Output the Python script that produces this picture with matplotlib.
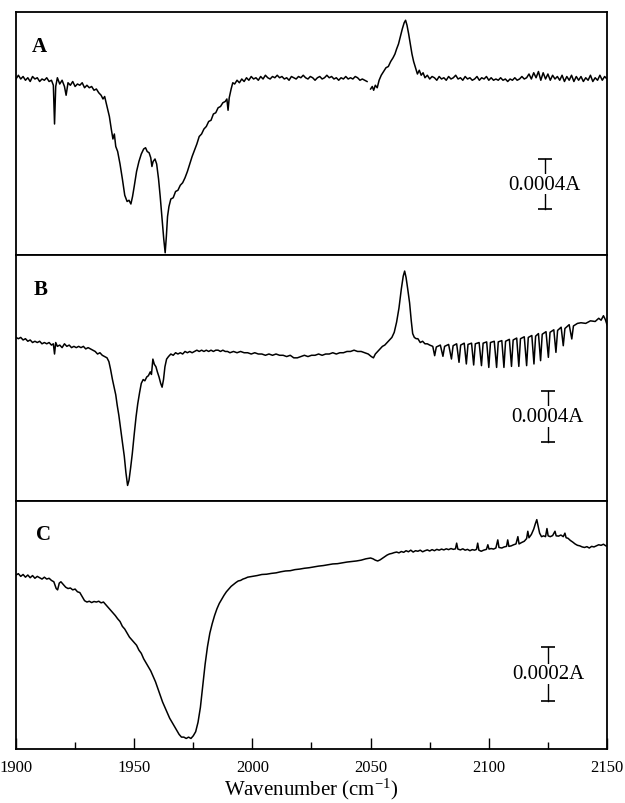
import matplotlib
matplotlib.use('Agg')
import matplotlib.pyplot as plt
import numpy as np

plt.rcParams['font.family'] = 'Liberation Serif'
plt.rcParams['mathtext.fontset'] = 'custom'
plt.rcParams['mathtext.rm'] = 'Liberation Serif'
plt.rcParams['mathtext.it'] = 'Liberation Serif:italic'

# absorbance values are in units of 1e-4 A, relative to the baseline
a_wn = [
    1900, 1901, 1902, 1903, 1904, 1905, 1906, 1907, 1908, 1909, 1910, 1911, 1912, 1913, 1914, 1915,
    1915.8, 1916.3, 1916.8, 1917.5, 1918.5, 1919.5, 1920.5, 1921.2, 1922, 1923, 1924, 1925, 1926,
    1927, 1928, 1929, 1930, 1931, 1932, 1933, 1934, 1935, 1936, 1936.8, 1937.5, 1938.5, 1939.5,
    1940.3, 1941, 1941.6, 1942.2, 1943, 1944, 1945, 1946, 1947, 1947.8, 1948.6, 1949.3, 1950, 1951,
    1952, 1953, 1954, 1954.8, 1955.5, 1956.3, 1957, 1957.5, 1958, 1958.8, 1959.5, 1960.3, 1961,
    1961.8, 1962.5, 1963.1, 1963.6, 1964.1, 1964.7, 1965.5, 1966.5, 1967.5, 1968.5, 1969.5, 1970.5,
    1971.5, 1972.5, 1973.5, 1974.5, 1975.5, 1976.5, 1977.5, 1978.5, 1979.5, 1980.5, 1981.5, 1982.5,
    1983.5, 1984.5, 1985.5, 1986.5, 1987.5, 1988.5, 1989.2, 1989.7, 1990.2, 1991, 1991.7, 1992.5,
    1993.5, 1994.5, 1995.5, 1996.5, 1997.5, 1998.5, 1999.5, 2000.5, 2001.5, 2002.5, 2003.5, 2004.5,
    2005.5, 2006.5, 2007.5, 2008.5, 2009.5, 2010.5, 2011.5, 2012.5, 2013.5, 2014.5, 2015.5, 2016.5,
    2017.5, 2018.5, 2019.5, 2020.5, 2021.5, 2022.5, 2023.5, 2024.5, 2025.5, 2026.5, 2027.5, 2028.5,
    2029.5, 2030.5, 2031.5, 2032.5, 2033.5, 2034.5, 2035.5, 2036.5, 2037.5, 2038.5, 2039.5, 2040.5,
    2041.5, 2042.5, 2043.5, 2044.5, 2045.5, 2046.5, 2047.5, 2048.5, 2049.3, 2050, 2050.7, 2051.3,
    2052, 2052.8, 2053.6, 2054.5, 2055.5, 2056.5, 2057.5, 2058.5, 2059.5, 2060.3, 2061, 2061.8,
    2062.6, 2063.4, 2064.2, 2064.8, 2065.4, 2066.1, 2066.8, 2067.5, 2068.2, 2069, 2069.8, 2070.6,
    2071.4, 2072.2, 2073, 2074, 2075, 2076, 2077, 2078, 2079, 2080, 2081, 2082, 2083, 2084, 2085,
    2086, 2087, 2088, 2089, 2090, 2091, 2092, 2093, 2094, 2095, 2096, 2097, 2098, 2099, 2100, 2101,
    2102, 2103, 2104, 2105, 2106, 2107, 2108, 2109, 2110, 2111, 2112, 2113, 2114, 2115, 2116, 2117,
    2118, 2119, 2120, 2121, 2122, 2123, 2124, 2125, 2126, 2127, 2128, 2129, 2130, 2131, 2132, 2133,
    2134, 2135, 2136, 2137, 2138, 2139, 2140, 2141, 2142, 2143, 2144, 2145, 2146, 2147, 2148, 2149,
    2150,
]
a_val = [
    0.0, 0.3, 0.0, 0.2, -0.1, 0.1, -0.2, 0.2, 0.0, 0.1, -0.2, 0.0, -0.1, 0.1, -0.2, -0.1,
    -0.5, -3.6, -0.6, 0.1, -0.4, -0.1, -0.6, -1.3, -0.3, -0.5, -0.2, -0.6, -0.4,
    -0.5, -0.3, -0.7, -0.5, -0.7, -0.6, -0.9, -0.8, -1.1, -1.3, -1.6, -1.4, -2.2, -3.0,
    -4.0, -4.8, -4.4, -5.4, -5.8, -6.8, -8.0, -9.3, -9.8, -9.7, -10.0, -9.4, -8.6, -7.4,
    -6.6, -6.0, -5.6, -5.5, -5.8, -5.9, -6.3, -7.0, -6.6, -6.4, -6.8, -8.0, -9.4,
    -11.2, -12.8, -13.9, -12.6, -11.0, -10.2, -9.6, -9.5, -9.0, -8.9, -8.5, -8.3,
    -7.9, -7.4, -6.8, -6.2, -5.7, -5.2, -4.6, -4.4, -4.0, -3.8, -3.4, -3.3,
    -2.8, -2.7, -2.3, -2.2, -1.9, -1.8, -1.6, -2.5, -1.5, -0.8, -0.3, -0.4,
    -0.1, -0.3, 0.0, -0.2, 0.1, -0.1, 0.2, 0.0, 0.1, -0.1, 0.2, 0.0,
    0.3, 0.1, 0.0, 0.2, 0.1, 0.3, 0.1, 0.2, 0.0, 0.1, -0.1, 0.2,
    0.1, 0.0, 0.2, 0.1, 0.3, 0.1, 0.0, 0.2, 0.1, -0.1, 0.1, 0.2,
    0.0, 0.1, 0.3, 0.1, 0.2, 0.0, 0.1, -0.1, 0.1, 0.0, 0.2, 0.0,
    0.1, 0.0, 0.2, 0.1, -0.1, 0.0, -0.1, -0.2, np.nan, -0.8, -0.6, -0.9,
    -0.5, -0.7, -0.1, 0.3, 0.6, 0.9, 1.0, 1.4, 1.7, 2.0, 2.4, 2.8,
    3.4, 4.0, 4.5, 4.7, 4.3, 3.6, 2.8, 2.0, 1.4, 0.9, 0.4, 0.7,
    0.3, 0.5, 0.1, 0.3, 0.0, 0.2, 0.1, -0.1, 0.2, 0.0, 0.1, -0.1, 0.2, 0.0, 0.1,
    0.3, 0.0, 0.1, -0.1, 0.2, 0.0, 0.1, -0.1, 0.0, 0.2, -0.1, 0.1, 0.0, 0.2, -0.1, 0.1,
    -0.1, 0.0, -0.1, 0.1, -0.1, 0.0, -0.2, 0.0, -0.1, 0.1, -0.1, 0.0, 0.2, 0.0, 0.1, 0.4,
    0.0, 0.5, 0.1, 0.6, -0.1, 0.5, 0.0, 0.4, -0.1, 0.3, 0.0, 0.2, -0.1, 0.3, -0.2, 0.2,
    -0.1, 0.3, -0.2, 0.2, -0.1, 0.2, -0.2, 0.1, -0.1, 0.3, -0.2, 0.1, -0.1, 0.3, -0.1, 0.2,
    0.0,
]

b_wn = [
    1900, 1901, 1902, 1903, 1904, 1905, 1906, 1907, 1908, 1909, 1910, 1911, 1912, 1913, 1914, 1915,
    1915.8, 1916.3, 1916.8, 1917.5, 1918.5, 1919.5, 1920.5, 1921.5, 1922.5, 1923.5, 1924.5, 1925.5,
    1926.5, 1927.5, 1928.5, 1929.5, 1930.5, 1931.5, 1932.5, 1933.5, 1934.5, 1935.5, 1936.5, 1937.5,
    1938.5, 1939.3, 1940, 1940.8, 1941.5, 1942.2, 1942.8, 1943.5, 1944.2, 1945, 1945.8, 1946.5,
    1947.2, 1947.8, 1948.5, 1949.2, 1950, 1950.8, 1951.5, 1952.3, 1953, 1953.8, 1954.5, 1955.3,
    1956, 1956.8, 1957.3, 1957.9, 1958.5, 1959.2, 1959.8, 1960.5, 1961.2, 1961.8, 1962.4, 1963,
    1963.7, 1964.5, 1965.5, 1966.5, 1967.5, 1968.5, 1969.5, 1970.5, 1971.5, 1972.5, 1973.5, 1974.5,
    1975.5, 1976.5, 1977.5, 1978.5, 1979.5, 1980.5, 1981.5, 1982.5, 1983.5, 1984.5, 1985.5, 1986.5,
    1987.5, 1988.5, 1989.5, 1990.5, 1992, 1993.5, 1995, 1996.5, 1998, 1999.5, 2001, 2002.5, 2004,
    2005.5, 2007, 2008.5, 2010, 2011.5, 2013, 2014.5, 2016, 2017.5, 2019, 2020.5, 2022, 2023.5,
    2025, 2026.5, 2028, 2029.5, 2031, 2032.5, 2034, 2035.5, 2037, 2038.5, 2040, 2041.5, 2043,
    2044.5, 2046, 2047.5, 2049, 2050.3, 2051.2, 2052, 2053, 2054, 2055, 2056, 2057, 2058, 2059,
    2060, 2061, 2062, 2063, 2063.8, 2064.4, 2065, 2065.7, 2066.5, 2067.2, 2067.8, 2068.5, 2069.3,
    2070, 2071, 2072, 2073, 2074, 2075, 2076.3, 2077.1, 2077.8, 2079.5, 2080.6, 2081.3, 2083,
    2084.2, 2084.9, 2086.4, 2087.4, 2088.1, 2089.6, 2090.5, 2091.2, 2092.7, 2093.6, 2094.3,
    2095.9, 2096.9, 2097.6, 2099.1, 2100.0, 2100.7, 2102.3, 2103.3, 2104.0, 2105.5, 2106.4,
    2107.1, 2108.7, 2109.6, 2110.3, 2111.8, 2112.7, 2113.4, 2115.0, 2116.0, 2116.7, 2118.2,
    2119.1, 2119.8, 2121.0, 2121.9, 2122.6, 2124.2, 2125.2, 2125.9, 2127.5, 2128.4, 2129.1,
    2130.6, 2131.5, 2132.2, 2134.0, 2135.1, 2135.8, 2137.5, 2139, 2141, 2143, 2145, 2146.5,
    2147.5, 2148.5, 2149.3, 2150,
]
b_val = [
    1.3, 1.2, 1.3, 1.1, 1.2, 1.0, 1.1, 0.9, 1.0, 0.9, 1.0, 0.8, 0.9, 0.8, 0.9, 0.7,
    0.8, 0.0, 0.9, 0.6, 0.7, 0.5, 0.8, 0.6, 0.7, 0.5, 0.6, 0.5,
    0.6, 0.5, 0.6, 0.4, 0.5, 0.4, 0.3, 0.2, 0.0, 0.1, -0.1, -0.2,
    -0.3, -0.6, -1.2, -2.0, -2.6, -3.2, -4.0, -4.8, -5.8, -6.9, -8.0, -9.3,
    -10.3, -9.9, -8.9, -7.8, -6.3, -4.9, -3.9, -3.0, -2.3, -2.0, -2.1, -1.8,
    -1.7, -1.4, -1.6, -0.4, -0.8, -1.0, -1.4, -1.8, -2.3, -2.6, -2.0, -1.0,
    -0.4, -0.2, 0.0, -0.1, 0.1, 0.0, 0.1, 0.0, 0.2, 0.1, 0.2, 0.1,
    0.2, 0.3, 0.2, 0.3, 0.2, 0.3, 0.2, 0.3, 0.2, 0.3, 0.3, 0.2,
    0.3, 0.2, 0.2, 0.1, 0.2, 0.1, 0.2, 0.1, 0.1, 0.0, 0.1, 0.0, 0.0,
    -0.1, 0.0, -0.1, 0.0, -0.1, -0.1, -0.2, -0.1, -0.3, -0.3, -0.2, -0.1, -0.2,
    -0.1, -0.1, 0.0, -0.1, 0.0, 0.0, 0.1, 0.0, 0.1, 0.1, 0.2, 0.2, 0.3,
    0.2, 0.2, 0.1, 0.0, -0.2, -0.3, 0.0, 0.2, 0.4, 0.6, 0.7, 0.9, 1.1, 1.3,
    1.7, 2.5, 3.6, 5.1, 6.1, 6.5, 6.0, 5.1, 4.0, 2.6, 1.6, 1.3, 1.2,
    1.2, 0.9, 1.0, 0.8, 0.8, 0.7, 0.6, -0.13, 0.55, 0.7, -0.18, 0.6, 0.75,
    -0.39, 0.65, 0.8, -0.65, 0.7, 0.85, -0.78, 0.75, 0.85, -0.86, 0.8,
    0.9, -0.91, 0.85, 0.95, -1.05, 0.9, 1.0, -1.05, 0.95, 1.05, -1.05,
    1.0, 1.15, -0.97, 1.1, 1.25, -0.97, 1.2, 1.35, -0.91, 1.3, 1.45,
    -0.78, 1.4, 1.6, -0.52, 1.55, 1.75, -0.26, 1.7, 1.9, 0.13, 1.85,
    2.1, 0.65, 2.0, 2.3, 1.18, 2.2, 2.4, 2.45, 2.4, 2.6, 2.55, 2.8,
    2.65, 3.0, 2.7, 2.3,
]

c_wn = [
    1900, 1901, 1902, 1903, 1904, 1905, 1906, 1907, 1908, 1909, 1910, 1911, 1912, 1913, 1914, 1915,
    1916, 1917, 1917.6, 1918.3, 1919, 1920, 1921, 1922, 1923, 1924, 1925, 1926, 1927, 1928, 1929,
    1930, 1931, 1932, 1933, 1934, 1935, 1936, 1937, 1938, 1939, 1940, 1941, 1942, 1943, 1944, 1945,
    1946, 1947, 1948, 1949, 1950, 1951, 1952, 1953, 1954, 1955, 1956, 1957, 1958, 1959, 1960, 1961,
    1962, 1963, 1964, 1965, 1966, 1967, 1968, 1969, 1970, 1971, 1972, 1973, 1974, 1975, 1976, 1977,
    1978, 1979, 1980, 1981, 1982, 1983, 1984, 1985, 1986, 1987, 1988, 1989, 1990, 1991, 1992, 1993,
    1994, 1995, 1996, 1997, 1998, 2000, 2002, 2004, 2006, 2008, 2010, 2012, 2014, 2016, 2018, 2020,
    2022, 2024, 2026, 2028, 2030, 2032, 2034, 2036, 2038, 2040, 2042, 2044, 2046, 2048, 2050, 2051,
    2052, 2053, 2054, 2055, 2056, 2057, 2058, 2059, 2060, 2061, 2062, 2063, 2064, 2065, 2066, 2067,
    2068, 2069, 2070, 2071, 2072, 2073, 2074, 2075, 2076, 2077, 2078, 2079, 2080, 2081, 2082, 2083,
    2084, 2085, 2085.9, 2086.4, 2086.9, 2088, 2089, 2090, 2091, 2092, 2093, 2094, 2094.8, 2095.3,
    2095.8, 2096.8, 2097.8, 2099, 2099.6, 2100.1, 2101, 2102, 2103, 2103.8, 2104.3, 2105.5, 2106.5,
    2107.5, 2108, 2108.5, 2109.5, 2110.5, 2111.5, 2112.3, 2112.8, 2113.8, 2115, 2116, 2116.5, 2117,
    2118, 2119, 2119.7, 2120.3, 2120.9, 2121.5, 2122.3, 2123.2, 2124, 2124.6, 2125.1, 2126, 2127,
    2128, 2128.5, 2129.5, 2130.5, 2131.5, 2132.2, 2132.7, 2133.5, 2134.5, 2135.5, 2136.5, 2137.5,
    2138.5, 2139.5, 2140.5, 2141.5, 2142.5, 2143.5, 2144.5, 2145.5, 2146.5, 2147.5, 2148.5, 2149.5,
    2150,
]
c_val = [
    0.0, 0.05, -0.05, 0.02, -0.08, 0.0, -0.1, -0.02, -0.12, -0.05, -0.1, -0.15, -0.08, -0.15, -0.12, -0.2,
    -0.25, -0.5, -0.55, -0.3, -0.25, -0.35, -0.45, -0.5, -0.48, -0.55, -0.52, -0.62, -0.65, -0.8, -0.95,
    -1.0, -0.97, -1.02, -0.98, -1.0, -0.97, -1.03, -1.0, -1.1, -1.2, -1.3, -1.4, -1.5, -1.62, -1.72, -1.9,
    -2.0, -2.15, -2.3, -2.4, -2.5, -2.6, -2.78, -2.9, -3.1, -3.25, -3.4, -3.55, -3.75, -3.95, -4.2, -4.45,
    -4.7, -4.9, -5.1, -5.3, -5.45, -5.6, -5.75, -5.9, -6.0, -6.0, -6.05, -6.0, -6.05, -5.95, -5.8, -5.45,
    -4.9, -4.1, -3.3, -2.65, -2.15, -1.8, -1.5, -1.25, -1.05, -0.9, -0.75, -0.62, -0.52, -0.42, -0.35, -0.28,
    -0.22, -0.2, -0.15, -0.12, -0.08, -0.05, -0.02, 0.02, 0.03, 0.06, 0.08, 0.12, 0.15, 0.16, 0.2, 0.22,
    0.25, 0.27, 0.3, 0.33, 0.35, 0.38, 0.41, 0.42, 0.45, 0.48, 0.5, 0.52, 0.55, 0.6, 0.63, 0.6,
    0.55, 0.52, 0.56, 0.62, 0.68, 0.74, 0.78, 0.8, 0.83, 0.85, 0.82, 0.87, 0.84, 0.9, 0.86, 0.92,
    0.85, 0.9, 0.88, 0.92, 0.86, 0.9, 0.93, 0.89, 0.94, 0.9, 0.95, 0.92, 0.96, 0.93, 0.97, 0.94,
    0.98, 0.95, 0.97, 1.18, 0.96, 0.93, 0.97, 0.92, 0.95, 0.9, 0.94, 0.92, 0.95, 1.18,
    0.92, 0.88, 0.92, 0.95, 1.12, 0.96, 0.98, 0.96, 1.0, 1.3, 1.02, 1.0, 1.04,
    1.06, 1.3, 1.06, 1.08, 1.12, 1.15, 1.42, 1.15, 1.2, 1.25, 1.35, 1.62, 1.38,
    1.5, 1.7, 1.9, 2.05, 1.8, 1.55, 1.42, 1.45, 1.42, 1.72, 1.45, 1.42, 1.46,
    1.62, 1.45, 1.44, 1.48, 1.42, 1.55, 1.38, 1.36, 1.28, 1.22, 1.15, 1.1,
    1.08, 1.04, 1.02, 1.05, 1.0, 1.06, 1.04, 1.08, 1.12, 1.1, 1.14, 1.08,
    1.07,
]

panel_labels = ['A', 'B', 'C']
scale_text = ['0.0004A', '0.0004A', '0.0002A']
scale_len = [4.0, 4.0, 2.0]            # bar length, 1e-4 A units
x_ticks_major = [1900, 1950, 2000, 2050, 2100, 2150]
x_ticks_minor = [1925, 1975, 2025, 2075, 2125]

W, H = 625, 804
fig = plt.figure(figsize=(W / 100, H / 100), dpi=100)


def px_axes(top, bottom, left=16, right=607):
    return fig.add_axes([left / W, 1 - bottom / H, (right - left) / W, (bottom - top) / H])


axA = px_axes(13, 256)
axB = px_axes(256, 502)
axC = px_axes(502, 750)
axes = [axA, axB, axC]

series = [(a_wn, a_val), (b_wn, b_val), (c_wn, c_val)]
ylims = [(-14.08, 5.36), (-11.52, 7.76), (-6.44, 2.74)]
bar_x = [2123.7, 2125.0, 2125.0]
bar_top = [-6.4, -2.9, -2.66]
label_pos = [(0.039, 0.86), (0.041, 0.862), (0.046, 0.867)]

for i, ax in enumerate(axes):
    wn, val = series[i]
    ax.plot(wn, val, color='black', lw=1.1)
    ax.set_xlim(1900, 2150)
    ax.set_ylim(*ylims[i])
    ax.set_yticks([])
    for sp in ax.spines.values():
        sp.set_linewidth(1.3)

    ax.text(*label_pos[i], panel_labels[i], transform=ax.transAxes, fontsize=15,
            fontweight='bold', ha='center', va='center')

    # scale bar with caps, label sits on top of it
    y0 = bar_top[i]
    y1 = y0 - scale_len[i]
    ax.plot([bar_x[i], bar_x[i]], [y0, y1], color='black', lw=1.0)
    ax.plot([bar_x[i], bar_x[i]], [y0, y1], ls='none', marker='_', ms=10, mew=1.2, color='black')
    ax.text(bar_x[i], (y0 + y1) / 2, scale_text[i], fontsize=15, ha='center', va='center',
            bbox=dict(facecolor='white', edgecolor='none', pad=0.5), zorder=5)

    if i < 2:
        ax.set_xticks([])

axC.set_xticks(x_ticks_major)
axC.set_xticks(x_ticks_minor, minor=True)
axC.tick_params(axis='x', which='major', direction='in', length=8, width=1.0, pad=7, labelsize=12)
axC.tick_params(axis='x', which='minor', direction='in', length=5, width=1.0)
axC.set_xlabel(r'Wavenumber (cm$^{-1}$)', fontsize=15, labelpad=1)

fig.savefig('out.png', dpi=100)
